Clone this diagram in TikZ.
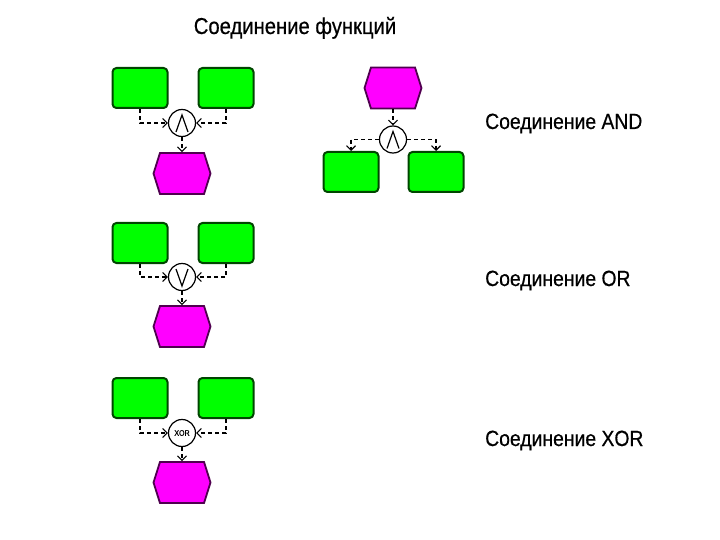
\documentclass[tikz,border=0pt]{standalone}
\usepackage{fontspec}
\setmainfont{Liberation Sans}[FakeStretch=0.88, FakeBold=0.5]
\definecolor{funcgreen}{RGB}{0, 255, 0}
\definecolor{funcborder}{RGB}{0, 70, 0}
\definecolor{eventpink}{RGB}{255, 0, 255}
\definecolor{eventborder}{RGB}{80, 0, 80}
\usetikzlibrary{shapes.symbols, arrows.meta, positioning}

\begin{document}
\begin{tikzpicture}[x=1pt, y=-1pt, >={Straight Barb[length=4.5pt, width=9pt]},
    func/.style={rectangle, draw=funcborder, fill=funcgreen, line width=2pt, rounded corners=4pt, minimum width=55pt, minimum height=40pt},
    event/.style={signal, signal to=east and west, signal pointer angle=145, draw=eventborder, fill=eventpink, line width=1.8pt, minimum width=57pt, minimum height=41pt, inner sep=0pt},
    conn/.style={circle, draw, line width=1.2pt, fill=white, minimum size=27pt, inner sep=0pt},
    andsym/.style={conn, path picture={\draw[line width=1.2pt] ([shift={(-6pt,-9pt)}]path picture bounding box.center) -- ([shift={(0pt,8pt)}]path picture bounding box.center) -- ([shift={(6pt,-9pt)}]path picture bounding box.center);}},
    orsym/.style={conn, path picture={\draw[line width=1.2pt] ([shift={(-6pt,8pt)}]path picture bounding box.center) -- ([shift={(0pt,-9pt)}]path picture bounding box.center) -- ([shift={(6pt,8pt)}]path picture bounding box.center);}},
    flow/.style={->, dash pattern=on 4pt off 3pt, line width=1.1pt},
    caption/.style={anchor=base west, inner sep=0pt, font=\fontsize{22}{26}\selectfont}]
  \useasboundingbox (0,0) rectangle (720,540);

  \node (title) [anchor=base, inner sep=0pt, font=\fontsize{23}{27}\selectfont] at (295,34) {Соединение функций};

  % AND, two functions in
  \node (and1) [andsym] at (182,123) {};
  \node (in1a) [func] at (140,88) {};
  \node (in1b) [func, right=29pt of in1a] {};
  \node (out1) [event, below=15pt of and1] {};
  \draw[flow] (in1a) |- (and1);
  \draw[flow] (in1b) |- (and1);
  \draw[flow] (and1) -- (out1);

  % AND, one event out to two functions
  \node (ev2) [event] at (393,88) {};
  \node (and2) [andsym, below=16pt of ev2] {};
  \node (fn2a) [func] at (351,172) {};
  \node (fn2b) [func, right=28pt of fn2a] {};
  \draw[flow] (ev2) -- (and2);
  \draw[flow] (and2) -| (fn2a);
  \draw[flow] (and2) -| (fn2b);

  % OR
  \node (or3) [orsym] at (182,277) {};
  \node (in3a) [func] at (140,243) {};
  \node (in3b) [func, right=29pt of in3a] {};
  \node (out3) [event, below=14pt of or3] {};
  \draw[flow] (in3a) |- (or3);
  \draw[flow] (in3b) |- (or3);
  \draw[flow] (or3) -- (out3);

  % XOR
  \node (xor4) [conn, font=\fontsize{8}{9}\selectfont] at (182,433) {XOR};
  \node (in4a) [func] at (140,398) {};
  \node (in4b) [func, right=29pt of in4a] {};
  \node (out4) [event, below=14pt of xor4] {};
  \draw[flow] (in4a) |- (xor4);
  \draw[flow] (in4b) |- (xor4);
  \draw[flow] (xor4) -- (out4);

  \node (andtxt) [caption] at (485,129) {Соединение AND};
  \node (ortxt) [caption] at (485,286) {Соединение OR};
  \node (xortxt) [caption] at (485,446) {Соединение XOR};
\end{tikzpicture}
\end{document}
